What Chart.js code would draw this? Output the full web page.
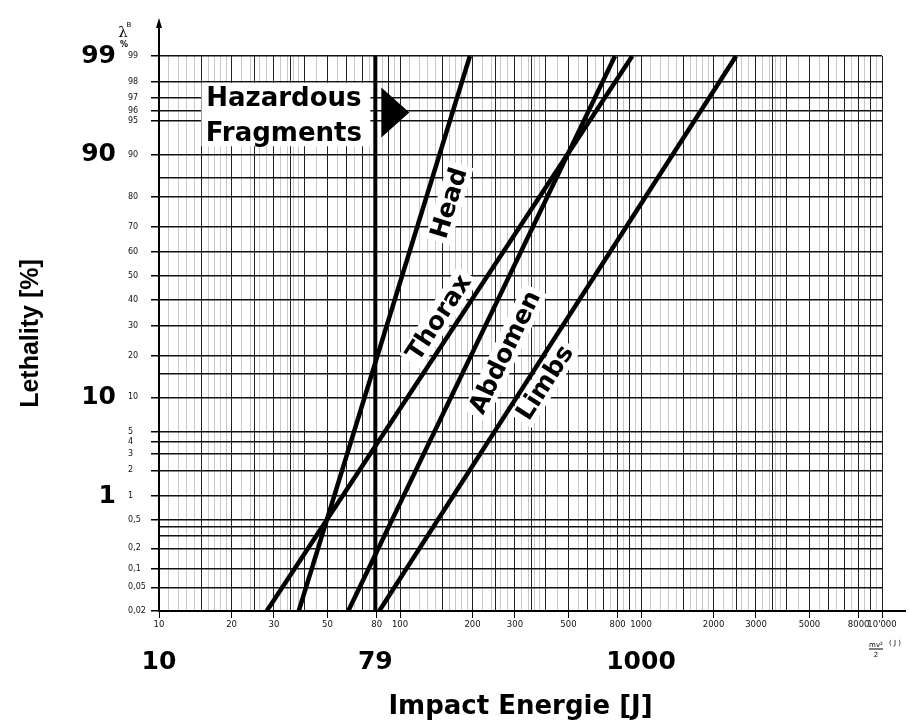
<!DOCTYPE html>
<html>
<head>
<meta charset="utf-8">
<script src="https://cdn.jsdelivr.net/npm/chart.js@4.4.0/dist/chart.umd.min.js"></script>
<style>
  html, body { margin: 0; padding: 0; background: #fff; }
  canvas { display: block; }
</style>
</head>
<body>
<canvas id="chart" width="909" height="723"></canvas>
<script>
// Letalität von Splittern nach Körperteil (Wahrscheinlichkeitspapier)
const bodyParts = ['Head', 'Thorax', 'Abdomen', 'Limbs'];
const energyAtLow = [38, 28, 61, 82];        // J bei 0,02 %
const energyAtHigh = [195, 920, 780, 2480];  // J bei 99 %
const lethalityLow = 0.02;
const lethalityHigh = 99;
const fragmentEnergy = 79;

const xTickLabels = [10, 20, 30, 50, 80, 100, 200, 300, 500, 800, 1000, 2000, 3000, 5000, 8000, 10000];
const yTickLabels = [0.02, 0.05, 0.1, 0.2, 0.5, 1, 2, 3, 4, 5, 10, 20, 30, 40, 50, 60, 70, 80, 90, 95, 96, 97, 98, 99];
const yExtraLines = [0.3, 0.4, 15, 85];
const xBigTicks = [10, 79, 1000];
const yBigTicks = [1, 10, 90, 99];

// Beschriftung an den Geraden (Energie J, Letalität %)
const labelEnergy = [160, 145, 273, 400];
const labelLethality = [78, 33, 21, 13];

// Raster des Papiers
const majorSteps = [1, 1.5, 2, 2.5, 3, 3.5, 4, 5, 6, 7, 8, 9];
const minorSteps = [1.1, 1.2, 1.3, 1.4, 1.6, 1.7, 1.8, 1.9, 2.2, 2.4, 2.6, 2.8, 3.2, 3.4, 3.6, 3.8, 4.5, 5.5, 6.5, 7.5, 8.5, 9.5];

function probit(p) {
    const a = [-3.969683028665376e+01, 2.209460984245205e+02, -2.759285104469687e+02, 1.383577518672690e+02, -3.066479806614716e+01, 2.506628277459239e+00];
    const b = [-5.447609879822406e+01, 1.615858368580409e+02, -1.556989798598866e+02, 6.680131188771972e+01, -1.328068155288572e+01];
    const c = [-7.784894002430293e-03, -3.223964580411365e-01, -2.400758277161838e+00, -2.549732539343734e+00, 4.374664141464968e+00, 2.938163982698783e+00];
    const d = [7.784695709041462e-03, 3.224671290700398e-01, 2.445134137142996e+00, 3.754408661907416e+00];
    const pl = 0.02425;
    let q, r;
    if (p < pl) {
        q = Math.sqrt(-2 * Math.log(p));
        return (((((c[0] * q + c[1]) * q + c[2]) * q + c[3]) * q + c[4]) * q + c[5]) / ((((d[0] * q + d[1]) * q + d[2]) * q + d[3]) * q + 1);
    }
    if (p <= 1 - pl) {
        q = p - 0.5; r = q * q;
        return (((((a[0] * r + a[1]) * r + a[2]) * r + a[3]) * r + a[4]) * r + a[5]) * q / (((((b[0] * r + b[1]) * r + b[2]) * r + b[3]) * r + b[4]) * r + 1);
    }
    q = Math.sqrt(-2 * Math.log(1 - p));
    return -(((((c[0] * q + c[1]) * q + c[2]) * q + c[3]) * q + c[4]) * q + c[5]) / ((((d[0] * q + d[1]) * q + d[2]) * q + d[3]) * q + 1);
}
const z = pct => probit(pct / 100);

const zMin = z(lethalityLow);
const zMax = z(lethalityHigh);

const round2 = v => Math.round(v * 100) / 100;
const decades = [10, 100, 1000];
const xMajor = decades.flatMap(dec => majorSteps.map(m => round2(m * dec))).concat([10000]);
const xMinor = decades.flatMap(dec => minorSteps.map(m => round2(m * dec)));
const xGrid = xMajor.concat(xMinor).sort((p, q) => p - q);
const yGrid = yTickLabels.concat(yExtraLines).sort((p, q) => p - q);

const isLabelled = v => xTickLabels.some(t => Math.abs(t - v) < 1e-6);
const isMajor = v => xMajor.some(t => Math.abs(t - v) < 1e-6);
const fmtX = v => v >= 10000 ? "10'000" : String(v);
const fmtPct = p => String(p).replace('.', ',');

const datasets = bodyParts.map((name, i) => ({
    label: name,
    data: [
        { x: energyAtLow[i], y: z(lethalityLow) },
        { x: energyAtHigh[i], y: z(lethalityHigh) }
    ],
    borderColor: '#000',
    borderWidth: 4.5,
    pointRadius: 0,
    showLine: true
}));
datasets.push({
    label: 'Hazardous Fragments',
    data: [
        { x: fragmentEnergy, y: z(lethalityLow) },
        { x: fragmentEnergy, y: z(lethalityHigh) }
    ],
    borderColor: '#000',
    borderWidth: 4,
    pointRadius: 0,
    showLine: true
});

const bold = (size, family) => ({ family: family || "'DejaVu Sans', sans-serif", weight: 'bold', size });

const annotations = {
    id: 'annotations',
    afterDatasetsDraw(chart) {
        const { ctx, chartArea } = chart;
        const x = chart.scales.x, y = chart.scales.y;
        ctx.save();

        // Beschriftung der Geraden
        ctx.font = "bold 25px 'DejaVu Sans', sans-serif";
        ctx.textAlign = 'center';
        ctx.textBaseline = 'middle';
        bodyParts.forEach((name, i) => {
            const x0 = x.getPixelForValue(energyAtLow[i]), y0 = y.getPixelForValue(z(lethalityLow));
            const x1 = x.getPixelForValue(energyAtHigh[i]), y1 = y.getPixelForValue(z(lethalityHigh));
            const angle = Math.atan2(y1 - y0, x1 - x0);
            const cx = x.getPixelForValue(labelEnergy[i]);
            const cy = y.getPixelForValue(z(labelLethality[i]));
            const w = ctx.measureText(name).width;
            ctx.save();
            ctx.translate(cx, cy);
            ctx.rotate(angle);
            ctx.fillStyle = '#fff';
            ctx.fillRect(-w / 2 - 4, -13, w + 8, 26);
            ctx.fillStyle = '#000';
            ctx.fillText(name, 0, 1);
            ctx.restore();
        });

        // Kasten "Hazardous Fragments"
        const xf = x.getPixelForValue(fragmentEnergy);
        const left = x.getPixelForValue(15);
        const right = xf - 5;
        const top = y.getPixelForValue(z(98)) + 1;
        const bottom = y.getPixelForValue(z(91.5));
        ctx.fillStyle = '#fff';
        ctx.fillRect(left, top, right - left, bottom - top);
        ctx.fillStyle = '#000';
        ctx.font = "bold 26px 'DejaVu Sans', sans-serif";
        ctx.textBaseline = 'alphabetic';
        ctx.fillText('Hazardous', (left + right) / 2 - 2, top + 23);
        ctx.fillText('Fragments', (left + right) / 2 - 2, top + 58);

        // Pfeil
        const ay = (top + bottom) / 2 - 2;
        ctx.beginPath();
        ctx.moveTo(xf + 6, ay - 25);
        ctx.lineTo(xf + 6, ay + 25);
        ctx.lineTo(xf + 34, ay);
        ctx.closePath();
        ctx.fill();

        // Achsenpfeil oben
        const ax = chartArea.left;
        ctx.lineWidth = 2;
        ctx.beginPath();
        ctx.moveTo(ax, chartArea.top);
        ctx.lineTo(ax, chartArea.top - 34);
        ctx.stroke();
        ctx.beginPath();
        ctx.moveTo(ax, chartArea.top - 38);
        ctx.lineTo(ax - 3, chartArea.top - 28);
        ctx.lineTo(ax + 3, chartArea.top - 28);
        ctx.closePath();
        ctx.fill();
        ctx.font = "15px 'DejaVu Serif', serif";
        ctx.textAlign = 'center';
        ctx.fillText('λ', ax - 36, chartArea.top - 19);
        ctx.font = "7px 'DejaVu Sans', sans-serif";
        ctx.fillText('B', ax - 30, chartArea.top - 29);
        ctx.font = "bold 8px 'DejaVu Sans', sans-serif";
        ctx.fillText('%', ax - 35, chartArea.top - 9);

        // x-Achse verlängert, Einheit
        const bx = chartArea.right;
        ctx.beginPath();
        ctx.moveTo(bx, chartArea.bottom);
        ctx.lineTo(bx + 24, chartArea.bottom);
        ctx.stroke();
        ctx.font = "7px 'DejaVu Sans', sans-serif";
        ctx.fillText('mv²', bx - 6, chartArea.bottom + 36);
        ctx.lineWidth = 1;
        ctx.beginPath();
        ctx.moveTo(bx - 13, chartArea.bottom + 38);
        ctx.lineTo(bx + 1, chartArea.bottom + 38);
        ctx.stroke();
        ctx.fillText('2', bx - 6, chartArea.bottom + 46);
        ctx.fillText('( J )', bx + 13, chartArea.bottom + 34);
        ctx.restore();
    }
};

new Chart(document.getElementById('chart').getContext('2d'), {
    type: 'scatter',
    data: { datasets },
    options: {
        responsive: false,
        animation: false,
        layout: { padding: { top: 56, right: 27, left: 0, bottom: 0 } },
        plugins: {
            legend: { display: false },
            tooltip: { enabled: false }
        },
        scales: {
            x: {
                type: 'logarithmic',
                position: 'bottom',
                weight: 0,
                min: 10,
                max: 10000,
                afterBuildTicks: s => { s.ticks = xGrid.map(v => ({ value: v })); },
                afterFit: s => { s.height = 30; },
                ticks: {
                    autoSkip: false,
                    maxRotation: 0,
                    minRotation: 0,
                    padding: 2,
                    color: '#111',
                    font: { family: "'DejaVu Sans', sans-serif", size: 8.5 },
                    callback: v => isLabelled(v) ? fmtX(v) : ''
                },
                grid: {
                    color: c => isMajor(c.tick.value) ? '#222' : '#c8c8c8',
                    lineWidth: 1,
                    tickLength: 7,
                    tickColor: c => isLabelled(c.tick.value) ? '#000' : 'rgba(0,0,0,0)'
                },
                border: { color: '#000', width: 2 }
            },
            x2: {
                type: 'logarithmic',
                position: 'bottom',
                weight: 1,
                display: true,
                min: 10,
                max: 10000,
                afterBuildTicks: s => { s.ticks = xBigTicks.map(v => ({ value: v })); },
                afterFit: s => { s.height = 82; },
                ticks: {
                    autoSkip: false,
                    maxRotation: 0,
                    minRotation: 0,
                    padding: 6,
                    color: '#000',
                    font: bold(25),
                    callback: v => String(v)
                },
                grid: { display: false, drawTicks: false },
                border: { display: false },
                title: {
                    display: true,
                    text: 'Impact Energie [J]',
                    color: '#000',
                    font: bold(26),
                    padding: { top: 0, bottom: 0 }
                }
            },
            y: {
                type: 'linear',
                position: 'left',
                weight: 0,
                bounds: 'data',
                min: zMin,
                max: zMax,
                afterBuildTicks: s => { s.ticks = yGrid.map(p => ({ value: z(p) })); },
                afterFit: s => { s.width = 31; },
                ticks: {
                    autoSkip: false,
                    crossAlign: 'far',
                    padding: 0,
                    color: '#111',
                    font: { family: "'DejaVu Sans', sans-serif", size: 8 },
                    callback: (v, i) => yTickLabels.includes(yGrid[i]) ? fmtPct(yGrid[i]) : ''
                },
                grid: {
                    color: '#111',
                    lineWidth: 1.5,
                    tickLength: 8,
                    tickColor: c => yTickLabels.includes(yGrid[c.index]) ? '#000' : 'rgba(0,0,0,0)'
                },
                border: { color: '#000', width: 2 }
            },
            y2: {
                type: 'linear',
                position: 'left',
                weight: 1,
                display: true,
                bounds: 'data',
                min: zMin,
                max: zMax,
                afterBuildTicks: s => { s.ticks = yBigTicks.map(p => ({ value: z(p) })); },
                afterFit: s => { s.width = 128; },
                ticks: {
                    autoSkip: false,
                    crossAlign: 'near',
                    padding: 12,
                    color: '#000',
                    font: bold(25),
                    callback: (v, i) => String(yBigTicks[i])
                },
                grid: { display: false, drawTicks: false },
                border: { display: false },
                title: {
                    display: true,
                    text: 'Lethality [%]',
                    color: '#000',
                    font: bold(25, "'Liberation Sans', Arial, sans-serif"),
                    padding: { top: 16, bottom: 0 }
                }
            }
        }
    },
    plugins: [annotations]
});
</script>
</body>
</html>
